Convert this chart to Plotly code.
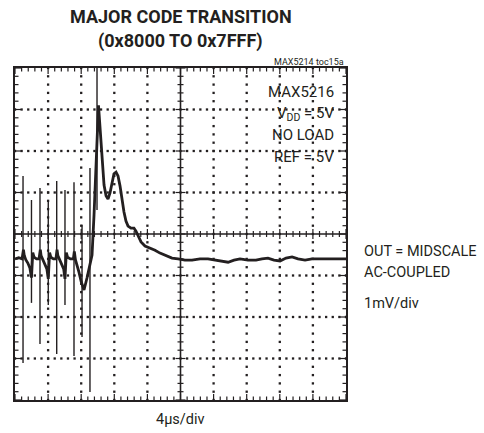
import numpy as np
import plotly.graph_objects as go

# ---- data (time in µs, output in mV; 4 µs/div, 1 mV/div) ----
main_t = [0.00, 0.45, 0.85, 1.02, 1.12, 1.30, 1.55, 1.80, 1.99, 2.06, 2.15, 2.30, 2.60, 2.90,
          3.06, 3.15, 3.35, 3.60, 3.85, 4.02, 4.09, 4.18, 4.33, 4.65, 4.95,
          5.08, 5.18, 5.38, 5.62, 5.88, 6.04, 6.11, 6.20, 6.35, 6.70, 7.05,
          7.17, 7.30, 7.50, 7.73, 8.00, 8.34, 8.70, 9.00, 9.18, 9.31,
          9.55, 9.73, 9.97, 10.09, 10.27, 10.51, 10.76, 11.00, 11.24, 11.48, 11.72,
          11.96, 12.21, 12.45, 12.69, 12.93, 13.17, 13.41, 13.66, 14.02, 14.38, 14.62,
          14.86, 15.23, 15.71, 16.31, 16.92, 17.52, 18.25, 18.97, 19.70, 20.54, 21.39,
          22.36, 23.32, 24.17, 25.02, 25.75, 26.47, 27.19, 28.16, 29.12, 29.85, 30.57,
          31.30, 32.03, 32.75, 33.48, 34.20, 35.05, 35.89, 36.86, 37.83, 38.79, 40.00]
main_v = [-0.60, -0.57, -0.60, -0.38, -0.52, -0.62, -0.70, -0.82, -1.05, -0.72, -0.45, -0.56, -0.60, -0.60,
          -0.38, -0.52, -0.62, -0.70, -0.84, -1.08, -0.72, -0.45, -0.56, -0.60, -0.60,
          -0.38, -0.52, -0.62, -0.70, -0.84, -1.08, -0.72, -0.45, -0.56, -0.60, -0.60,
          -0.42, -0.62, -0.75, -0.92, -1.15, -1.35, -1.06, -0.77, -0.67, -0.51,
          0.46, 1.54, 2.51, 3.10, 2.63, 1.78, 1.18, 0.92, 0.84, 0.99, 1.25,
          1.45, 1.49, 1.40, 1.16, 0.82, 0.53, 0.31, 0.19, 0.14, 0.14, 0.07,
          -0.05, -0.19, -0.29, -0.34, -0.39, -0.46, -0.53, -0.58, -0.60, -0.63, -0.63,
          -0.60, -0.60, -0.63, -0.65, -0.68, -0.63, -0.60, -0.63, -0.63, -0.60, -0.58,
          -0.63, -0.65, -0.58, -0.55, -0.60, -0.63, -0.60, -0.60, -0.60, -0.60, -0.60]

spike_t = [0.97, 1.99, 3.02, 4.02, 5.04, 6.04, 7.13, 8.10, 9.06, 9.91]
spike_top = [1.40, 0.82, 1.11, 0.82, 1.28, 1.06, 1.25, 0.22, 1.59, 4.00]
spike_bot = [-3.11, -1.66, -2.65, -1.71, -2.89, -1.71, -2.94, -2.48, -3.81, 0.58]

X_RANGE = [0, 40]
Y_RANGE = [-4, 4]
X_DIV = 4.0   # µs per division
Y_DIV = 1.0   # mV per division
N_MINOR = 5

INK = "#231f20"
FONT = "Roboto, Liberation Sans, sans-serif"

x_minor = [round(v, 6) for v in np.arange(X_RANGE[0], X_RANGE[1] + 1e-9, X_DIV / N_MINOR)]
y_minor = [round(v, 6) for v in np.arange(Y_RANGE[0], Y_RANGE[1] + 1e-9, Y_DIV / N_MINOR)]
x_major = [float(v) for v in np.arange(X_RANGE[0], X_RANGE[1] + 1e-9, X_DIV)]
y_major = [float(v) for v in np.arange(Y_RANGE[0], Y_RANGE[1] + 1e-9, Y_DIV)]
x_mid = (X_RANGE[0] + X_RANGE[1]) / 2
y_mid = (Y_RANGE[0] + Y_RANGE[1]) / 2

fig = go.Figure()
shapes = []

def vtick(x, yanchor, p0, p1, w=1.2):
    shapes.append(dict(type="line", xref="x", yref="y", x0=x, x1=x, ysizemode="pixel",
                       yanchor=yanchor, y0=p0, y1=p1, line=dict(color=INK, width=w)))

def htick(y, xanchor, p0, p1, w=1.2):
    shapes.append(dict(type="line", xref="x", yref="y", y0=y, y1=y, xsizemode="pixel",
                       xanchor=xanchor, x0=p0, x1=p1, line=dict(color=INK, width=w)))

# frame ticks (inside) and centre-axis ticks
for xv in x_minor:
    major = any(abs(xv - m) < 1e-6 for m in x_major)
    L = 6 if major else 3.5
    vtick(xv, Y_RANGE[0], 0, L)
    vtick(xv, Y_RANGE[1], 0, -L)
    c = 5 if major else 3
    vtick(xv, y_mid, -c, c)
for yv in y_minor:
    major = any(abs(yv - m) < 1e-6 for m in y_major)
    L = 6 if major else 3.5
    htick(yv, X_RANGE[0], 0, L)
    htick(yv, X_RANGE[1], 0, -L)
    c = 5 if major else 3
    htick(yv, x_mid, -c, c)

# centre cross
shapes.append(dict(type="line", xref="x", yref="y", x0=X_RANGE[0], x1=X_RANGE[1], y0=y_mid, y1=y_mid,
                   line=dict(color=INK, width=1.6)))
shapes.append(dict(type="line", xref="x", yref="y", x0=x_mid, x1=x_mid, y0=Y_RANGE[0], y1=Y_RANGE[1],
                   line=dict(color=INK, width=1.6)))

# dotted grid (dots at minor positions)
gx, gy = [], []
for yv in y_major[1:-1]:
    if abs(yv - y_mid) < 1e-9:
        continue
    gx += x_minor; gy += [yv] * len(x_minor)
for xv in x_major[1:-1]:
    if abs(xv - x_mid) < 1e-9:
        continue
    gx += [xv] * len(y_minor); gy += y_minor
fig.add_trace(go.Scatter(x=gx, y=gy, mode="markers", showlegend=False, hoverinfo="skip",
                         marker=dict(symbol="square", size=2.3, color=INK, line=dict(width=0))))

# signal: thin spikes + thick trace
sx, sy = [], []
for t, a, b in zip(spike_t, spike_top, spike_bot):
    sx += [t, t, None]
    sy += [a, b, None]
fig.add_trace(go.Scatter(x=sx, y=sy, mode="lines", line=dict(color=INK, width=1.4),
                         showlegend=False, hoverinfo="skip"))
fig.add_trace(go.Scatter(x=main_t, y=main_v, mode="lines", line=dict(color=INK, width=2.8),
                         showlegend=False, hoverinfo="skip"))

axis = dict(showline=True, linewidth=2.2, linecolor=INK, mirror=True, ticks="",
            showticklabels=False, zeroline=False, showgrid=False, fixedrange=True)

fig.update_layout(
    width=484, height=433,
    margin=dict(l=15, r=138, t=68, b=33),
    paper_bgcolor="white", plot_bgcolor="white",
    xaxis=dict(range=X_RANGE, **axis),
    yaxis=dict(range=Y_RANGE, **axis),
    shapes=shapes,
    hovermode=False,
)

def note(text, x, y, size=14, xanchor="left"):
    fig.add_annotation(text=text, x=x, y=y, xref="paper", yref="paper", xanchor=xanchor,
                       yanchor="middle", showarrow=False,
                       font=dict(family=FONT, size=size, color=INK))

note("<b>MAJOR CODE TRANSITION</b>", 0.5, 1.154, size=18, xanchor="center")
note("<b>(0x8000 TO 0x7FFF)</b>", 0.5, 1.081, size=18, xanchor="center")
note("MAX5214 toc15a", 1.0, 1.018, size=9, xanchor="right")

note("MAX5216", 0.970, 0.928, size=15, xanchor="right")
note("V<sub>DD</sub> = 5V", 0.970, 0.862, size=15, xanchor="right")
note("NO LOAD", 0.970, 0.798, size=15, xanchor="right")
note("REF = 5V", 0.970, 0.732, size=15, xanchor="right")

note("OUT = MIDSCALE", 1.048, 0.446, size=14.5)
note("AC-COUPLED", 1.048, 0.383, size=14.5)
note("1mV/div", 1.048, 0.292, size=14.5)
note("4µs/div", 0.5, -0.060, size=14.5, xanchor="center")

# remove the browser's default 8px body margin so the 484x433 figure fills the window
fig.write_html("out.html", config={"displayModeBar": False, "staticPlot": True},
               post_script="document.body.style.margin='0';document.body.style.overflow='hidden';")
